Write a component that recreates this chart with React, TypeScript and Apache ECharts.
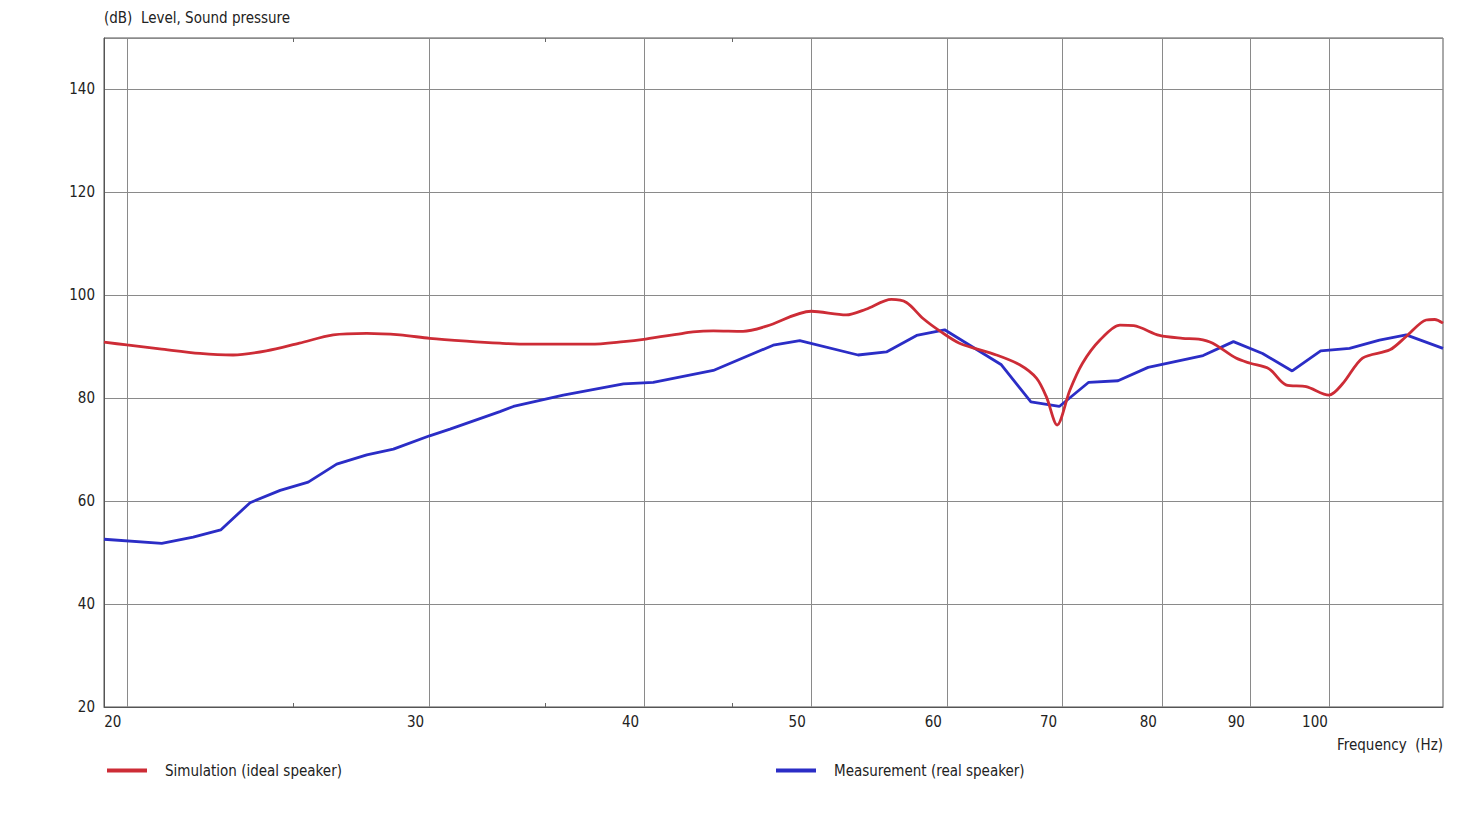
import React, { useEffect, useRef } from "react";
import * as echarts from "echarts";

const FONT = '"Liberation Sans Narrow", "DejaVu Sans Condensed", "Arial Narrow", sans-serif';
const TEXT = "#222222";

// Frequency axis (Hz, logarithmic)
const xMin = 19.4;
const xMax = 116.5;
const gridFreqs = [20, 30, 40, 50, 60, 70, 80, 90, 100];
const minorFreqs = [25, 35, 45];

// Level axis (dB)
const yMin = 20;
const yMax = 150;
const yStep = 20;

const simName = "Simulation (ideal speaker)";
const measName = "Measurement (real speaker)";

// Simulation (ideal speaker)
const simFreq = [
  19.4, 20, 20.9, 22.06, 23.06, 24.11, 25.2, 26.37, 27.58, 28.83, 30, 31.52, 32.96,
  34.2, 37.2, 38.9, 40.06, 41.74, 42.68, 43.86, 45.64, 47.1, 50, 52.4, 53.8, 55.67,
  56.8, 58.08, 59.5, 60.98, 64.07, 66.1, 67.6, 68.5, 69.5, 70.7, 71.9, 73.6, 75.6,
  77.0, 79.7, 82.2, 84.0, 85.6, 88.3, 90.0, 92.3, 94.4, 97.0, 100, 101.9, 104.6,
  108.5, 110.9, 113.9, 115.2, 116.5,
];
const simLevel = [
  90.9, 90.35, 89.6, 88.7, 88.4, 89.2, 90.7, 92.3, 92.6, 92.3, 91.65, 91.1, 90.7,
  90.5, 90.5, 91.0, 91.5, 92.4, 92.9, 93.1, 93.0, 94.0, 96.9, 96.2, 97.3, 99.2,
  98.6, 95.5, 92.9, 90.7, 88.4, 86.5, 83.9, 80.3, 74.8, 81.6, 86.8, 91.3, 94.2,
  94.1, 92.2, 91.65, 91.5, 90.7, 87.8, 86.8, 85.7, 82.6, 82.25, 80.6, 82.9, 87.8,
  89.4, 92.0, 95.2, 95.3, 94.6,
];

// Measurement (real speaker)
const measFreq = [
  19.4, 20.96, 21.86, 22.68, 23.59, 24.56, 25.5, 26.49, 27.58, 28.58, 30, 30.83,
  32.96, 33.56, 35.88, 38.89, 40.47, 43.86, 47.52, 49.24, 53.24, 55.3, 57.58, 59.78,
  64.5, 67.1, 69.7, 72.5, 75.4, 78.5, 84.5, 88.0, 91.5, 95.2, 98.9, 102.8, 107.0,
  110.9, 116.5,
];
const measLevel = [
  52.6, 51.8, 53.0, 54.4, 59.7, 62.1, 63.7, 67.2, 69.0, 70.1, 72.7, 74.0,
  77.4, 78.4, 80.6, 82.8, 83.1, 85.4, 90.3, 91.2, 88.4, 89.0, 92.2, 93.3,
  86.5, 79.3, 78.4, 83.1, 83.4, 86.0, 88.3, 91.0, 88.7, 85.3, 89.2, 89.7, 91.3,
  92.3, 89.7,
];

const RED = "#cd2c36";
const BLUE = "#2b2dc6";

export default function App() {
  const ref = useRef<HTMLDivElement>(null);

  useEffect(() => {
    if (!ref.current) return;
    const chart = echarts.init(ref.current, null, { renderer: "svg" });
    const textStyle = { fontFamily: FONT, fontSize: 15, color: TEXT };

    const minorAxis = (position: "top" | "bottom") => ({
      type: "log",
      position,
      min: xMin,
      max: xMax,
      axisLine: { show: false },
      axisTick: {
        show: true,
        inside: true,
        length: 4,
        customValues: minorFreqs,
        lineStyle: { color: "#666", width: 1 },
      },
      axisLabel: { show: false },
      splitLine: { show: false },
    });

    const legendBase = {
      top: 763,
      padding: 0,
      icon: "rect",
      itemWidth: 40,
      itemHeight: 4,
      textStyle: { ...textStyle, padding: [0, 0, 0, 13] },
    };

    chart.setOption({
      animation: false,
      backgroundColor: "#ffffff",
      textStyle: { fontFamily: FONT },
      grid: {
        left: 104,
        right: 23,
        top: 38,
        bottom: 118,
        show: true,
        borderColor: "#555555",
        borderWidth: 1,
        backgroundColor: "transparent",
      },
      legend: [
        { ...legendBase, left: 107, data: [simName] },
        { ...legendBase, left: 776, data: [measName] },
      ],
      xAxis: [
        {
          type: "log",
          position: "bottom",
          min: xMin,
          max: xMax,
          name: "Frequency  (Hz)",
          nameLocation: "end",
          nameGap: 0,
          nameTextStyle: {
            ...textStyle,
            align: "right",
            verticalAlign: "top",
            padding: [30, 0, 0, 0],
          },
          axisLine: { show: true, lineStyle: { color: "#555555", width: 1 } },
          axisTick: { show: false, customValues: gridFreqs },
          axisLabel: {
            ...textStyle,
            customValues: gridFreqs,
            margin: 7,
            align: "center",
            padding: [0, 28, 0, 0],
            showMinLabel: true,
            showMaxLabel: true,
            hideOverlap: false,
          },
          splitLine: { show: true, lineStyle: { color: "#8a8a8a", width: 1 } },
        },
        minorAxis("bottom"),
        minorAxis("top"),
      ],
      yAxis: {
        type: "value",
        min: yMin,
        max: yMax,
        interval: yStep,
        name: "(dB)  Level, Sound pressure",
        nameLocation: "end",
        nameGap: 20,
        nameTextStyle: { ...textStyle, align: "left", verticalAlign: "middle" },
        axisLine: { show: true, lineStyle: { color: "#555555", width: 1 } },
        axisTick: { show: false },
        axisLabel: {
          ...textStyle,
          margin: 9,
          formatter: (v: number) => (v > 140 ? "" : String(v)),
        },
        splitLine: { show: true, lineStyle: { color: "#8a8a8a", width: 1 } },
      },
      series: [
        {
          name: simName,
          type: "line",
          xAxisIndex: 0,
          data: simFreq.map((f, i) => [f, simLevel[i]]),
          showSymbol: false,
          smooth: 0.3,
          color: RED,
          lineStyle: { color: RED, width: 2.8 },
          z: 3,
        },
        {
          name: measName,
          type: "line",
          xAxisIndex: 0,
          data: measFreq.map((f, i) => [f, measLevel[i]]),
          showSymbol: false,
          smooth: false,
          color: BLUE,
          lineStyle: { color: BLUE, width: 2.8 },
          z: 2,
        },
      ],
    });

    return () => chart.dispose();
  }, []);

  return (
    <div
      ref={ref}
      style={{ position: "fixed", left: 0, top: 0, width: 1466, height: 825, background: "#fff" }}
    />
  );
}
